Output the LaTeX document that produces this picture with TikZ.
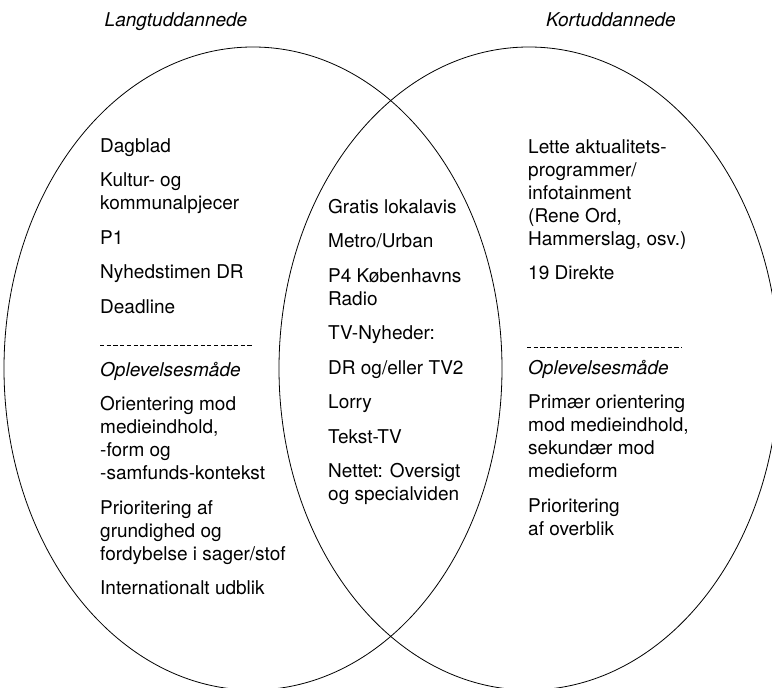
\documentclass[tikz,border=0pt]{standalone}
\usepackage{fontspec}
\setmainfont{TeX Gyre Heros}
\usetikzlibrary{positioning}

\begin{document}
\begin{tikzpicture}[
  x=1pt,y=-1pt,
  oval/.style={draw,line width=0.8pt},
  group/.style={anchor=north west,inner sep=0pt,align=left,font=\fontsize{19}{23}\selectfont},
  head/.style={anchor=base,inner sep=0pt,font=\itshape\fontsize{19}{23}\selectfont},
  rule/.style={draw,line width=0.6pt,dash pattern=on 4.2pt off 2.5pt}
]
  \useasboundingbox (0,0) rectangle (772,688);
  % the two circles
  \draw[oval] (253,368.5) ellipse [x radius=249,y radius=321.5];
  \draw[oval] (529,368.5) ellipse [x radius=250,y radius=321.5];
  \node[head] (lang) at (176,27) {Langtuddannede};
  \node[head] (kort) at (611,27) {Kortuddannede};
  % left side
  \node[group] (longmedia) at (100,138) {Dagblad\\[11.5pt]Kultur- og\\kommunalpjecer\\[11.5pt]P1\\[11.5pt]Nyhedstimen DR\\[11.5pt]Deadline};
  \coordinate (lrule) at (100,345);
  \draw[rule] (lrule) -- ++(153,0);
  \node[group] (longuse) at (100,362) {\textit{Oplevelsesmåde}\\[11.5pt]Orientering mod\\medieindhold,\\-form og\\-samfunds-kontekst\\[11.5pt]Prioritering af\\grundighed og\\fordybelse i sager/stof\\[11.5pt]Internationalt udblik};
  % overlap
  \node[group] (shared) at (328,199) {Gratis lokalavis\\[11.5pt]Metro/Urban\\[11.5pt]P4 Københavns\\Radio\\[11.5pt]TV-Nyheder:\\[11.5pt]DR og/eller TV2\\[11.5pt]Lorry\\[11.5pt]Tekst-TV\\[11.5pt]Nettet: Oversigt\\og specialviden};
  % right side
  \node[group] (shortmedia) at (528,139) {Lette aktualitets-\\programmer/\\infotainment\\(Rene Ord,\\Hammerslag, osv.)\\[11.5pt]19 Direkte};
  \coordinate (rrule) at (527,347);
  \draw[rule] (rrule) -- ++(155,0);
  \node[group] (shortuse) at (528,360) {\textit{Oplevelsesmåde}\\[11.5pt]Primær orientering\\mod medieindhold,\\sekundær mod\\medieform\\[11.5pt]Prioritering\\af overblik};
\end{tikzpicture}
\end{document}
